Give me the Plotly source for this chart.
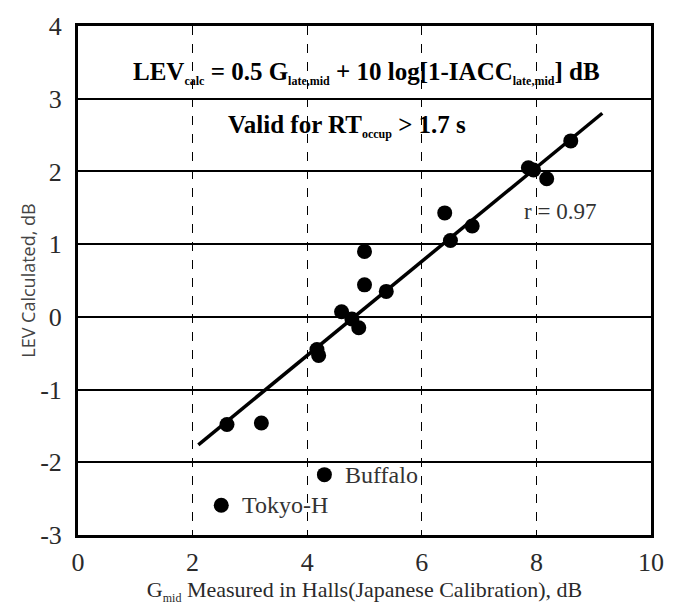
import plotly.graph_objects as go

g_mid = [2.6, 3.2, 2.5, 4.3, 4.17, 4.2, 4.6, 4.78, 4.9, 5.0, 5.0, 5.38, 6.4, 6.5, 6.88, 7.86, 7.95, 8.18, 8.6]
lev_calc = [-1.48, -1.46, -2.59, -2.17, -0.45, -0.53, 0.07, -0.03, -0.15, 0.44, 0.90, 0.35, 1.43, 1.05, 1.25, 2.05, 2.02, 1.9, 2.42]
fit_x = [2.1, 9.15]
fit_y = [-1.76, 2.8]
label_names = ["Buffalo", "Tokyo-H"]
label_x = [4.3, 2.5]
label_y = [-2.17, -2.59]
x_ticks = [0, 2, 4, 6, 8, 10]
x_tick_text = ["0", "2", "4", "6", "8", "10"]
y_ticks = [-3, -2, -1, 0, 1, 2, 3, 4]
y_tick_text = ["-3", "-2", "-1", "0", "1", "2", "3", "4"]

serif = "Liberation Serif, DejaVu Serif, serif"
txt = "#2a2a2a"

def small(s):
    return "<sub><span style='font-size:12px'>" + s + "</span></sub>"

fig = go.Figure()
fig.add_trace(go.Scatter(x=fit_x, y=fit_y, mode="lines",
                         line=dict(color="black", width=3.5), showlegend=False))
fig.add_trace(go.Scatter(x=g_mid, y=lev_calc, mode="markers",
                         marker=dict(color="black", size=15), showlegend=False))

for name, lx, ly in zip(label_names, label_x, label_y):
    fig.add_annotation(x=lx, y=ly, xref="x", yref="y", showarrow=False,
                       text=name, xanchor="left", xshift=19,
                       font=dict(family=serif, size=24, color="#333"))

fig.add_annotation(x=5.03, y=3.35, xref="x", yref="y", showarrow=False,
                   text="<b>LEV" + small("calc") + " = 0.5 G" + small("late,mid")
                        + " + 10 log[1-IACC" + small("late,mid") + "] dB</b>",
                   font=dict(family=serif, size=25, color="black"))
fig.add_annotation(x=4.7, y=2.62, xref="x", yref="y", showarrow=False,
                   text="<b>Valid for RT" + small("occup") + " > 1.7 s</b>",
                   font=dict(family=serif, size=25, color="black"))
fig.add_annotation(x=8.42, y=1.45, xref="x", yref="y", showarrow=False,
                   text="r = 0.97",
                   font=dict(family=serif, size=23, color="#333"))

fig.update_xaxes(range=[0, 10], tickvals=x_ticks, ticktext=x_tick_text,
                 showgrid=True, gridcolor="black", gridwidth=1, griddash="dash",
                 showline=True, linecolor="black", linewidth=3, mirror=True,
                 ticks="", zeroline=False, ticklabelstandoff=2,
                 tickfont=dict(family=serif, size=26, color=txt),
                 title=dict(text="G" + small("mid") + " Measured in Halls(Japanese Calibration), dB",
                            font=dict(family=serif, size=22, color=txt), standoff=0))
fig.update_yaxes(range=[-3, 4], tickvals=y_ticks, ticktext=y_tick_text,
                 showgrid=True, gridcolor="black", gridwidth=1.5,
                 showline=True, linecolor="black", linewidth=3, mirror=True,
                 ticks="", zeroline=False, ticklabelstandoff=8,
                 tickfont=dict(family=serif, size=26, color=txt),
                 title=dict(text="LEV Calculated, dB",
                            font=dict(family="Open Sans, Liberation Sans, sans-serif", size=18, color="#444"),
                            standoff=0))

fig.update_layout(width=676, height=605,
                  margin=dict(l=78, r=16, t=22, b=68),
                  paper_bgcolor="white", plot_bgcolor="white",
                  showlegend=False)

fig.write_html("out.html")
